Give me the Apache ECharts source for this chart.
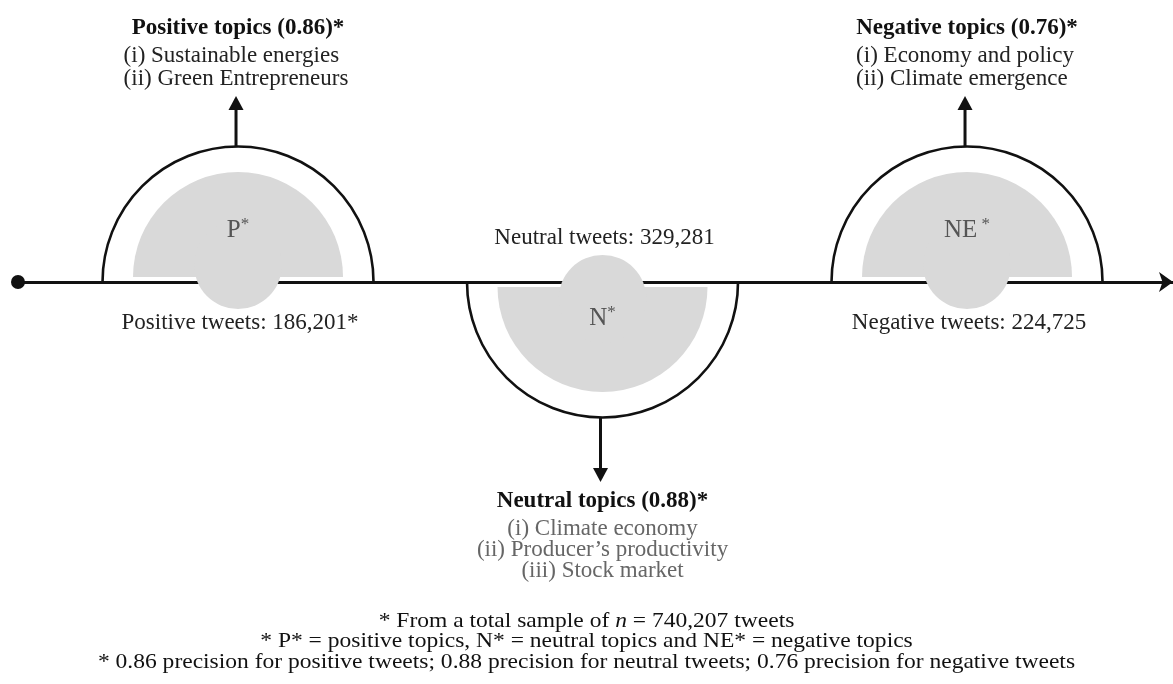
<!DOCTYPE html>
<html>
<head>
<meta charset="utf-8">
<script src="https://cdn.jsdelivr.net/npm/echarts@6/dist/echarts.min.js"></script>
<style>
  html, body { margin: 0; padding: 0; background: #fff; }
  #main { width: 1173px; height: 684px; }
</style>
</head>
<body>
<div id="main"></div>
<script>
// sentiment groups along the timeline
let categories = ['P', 'N', 'NE'];
let sentiments = ['Positive', 'Neutral', 'Negative'];
let tweetCounts = [186201, 329281, 224725];
let tweetMarks = ['*', '', ''];
let precisions = [0.86, 0.88, 0.76];
let topicLists = [
  ['Sustainable energies', 'Green Entrepreneurs'],
  ['Climate economy', 'Producer\u2019s productivity', 'Stock market'],
  ['Economy and policy', 'Climate emergence']
];
let sides = [1, -1, 1]; // 1 = topics above the line, -1 = below
let totalSample = 740207;
let romans = ['i', 'ii', 'iii'];

const SERIF = '"Liberation Serif", "DejaVu Serif", serif';
const INK = '#111';
const SHADE = '#d9d9d9';

let measureCtx = document.createElement('canvas').getContext('2d');
function textWidth(s, font) {
  measureCtx.font = font;
  return measureCtx.measureText(s).width;
}

function renderItem(params, api) {
  let i = params.dataIndex;
  let side = api.value(1);
  let p = api.coord([api.value(0), 0]);
  let cx = p[0], cy = p[1];
  let up = side > 0;
  let a0 = up ? Math.PI : 0;
  let a1 = up ? Math.PI * 2 : Math.PI;
  let tipY = cy - side * (up ? 186 : 200);
  let ax = cx - 2;

  let children = [
    {
      type: 'sector',
      shape: { cx: cx, cy: cy - side * 5, r0: 0, r: 105, startAngle: a0, endAngle: a1, clockwise: true },
      style: { fill: SHADE }
    },
    {
      type: 'circle',
      shape: { cx: cx, cy: cy - side * 17, r: 44 },
      style: { fill: SHADE }
    },
    {
      type: 'arc',
      shape: { cx: cx, cy: cy, r: 135.5, startAngle: a0, endAngle: a1, clockwise: true },
      style: { stroke: INK, lineWidth: 2.6, fill: null }
    },
    {
      type: 'line',
      shape: { x1: ax, y1: cy - side * 135.5, x2: ax, y2: tipY + side * 12 },
      style: { stroke: INK, lineWidth: 3 }
    },
    {
      type: 'polygon',
      shape: { points: [[ax, tipY], [ax - 7.5, tipY + side * 14], [ax + 7.5, tipY + side * 14]] },
      style: { fill: INK }
    },
    {
      type: 'text',
      x: cx,
      y: up ? cy - 52 : cy + 36,
      style: {
        text: '{a|' + categories[i] + '}{s|' + (categories[i].length > 1 ? ' *' : '*') + '}',
        align: 'center',
        verticalAlign: 'middle',
        rich: {
          a: { fontSize: 25, fontFamily: SERIF, fill: '#555' },
          s: { fontSize: 17, fontFamily: SERIF, fill: '#555', padding: [0, 0, 10, 0] }
        }
      }
    },
    {
      type: 'text',
      x: cx + 2,
      y: up ? cy + 41 : cy - 44,
      style: {
        text: sentiments[i] + ' tweets: ' + tweetCounts[i].toLocaleString('en-US') + tweetMarks[i],
        align: 'center',
        verticalAlign: 'middle',
        fontSize: 23,
        fontFamily: SERIF,
        fill: '#222'
      }
    }
  ];

  let items = topicLists[i].map(function (t, k) {
    return '(' + romans[k] + ') ' + t;
  });
  let header = sentiments[i] + ' topics (' + precisions[i].toFixed(2) + ')*';
  let headerY, itemY;
  if (up) {
    let gap = 23;
    let lastY = tipY - 17;
    itemY = items.map(function (_, k) { return lastY - (items.length - 1 - k) * gap; });
    headerY = itemY[0] - 28;
  } else {
    headerY = tipY + 19;
    itemY = items.map(function (_, k) { return headerY + 28 + k * 21; });
  }
  children.push({
    type: 'text',
    x: cx,
    y: headerY,
    style: {
      text: header,
      align: 'center',
      verticalAlign: 'middle',
      fontSize: 23,
      fontWeight: 'bold',
      fontFamily: SERIF,
      fill: INK
    }
  });
  let maxW = Math.max.apply(null, items.map(function (s) {
    return textWidth(s, '23px ' + SERIF);
  }));
  items.forEach(function (s, k) {
    children.push({
      type: 'text',
      x: up ? cx - 2 - maxW / 2 : cx,
      y: itemY[k],
      style: {
        text: s,
        align: up ? 'left' : 'center',
        verticalAlign: 'middle',
        fontSize: 23,
        fontFamily: SERIF,
        fill: up ? '#222' : '#666'
      }
    });
  });

  return { type: 'group', children: children };
}

let footLines = [
  '* From a total sample of {i|n} = ' + totalSample.toLocaleString('en-US') + ' tweets',
  '* ' + categories.map(function (c, i) {
    return c + '* = ' + sentiments[i].toLowerCase() + ' topics';
  }).reduce(function (acc, s, i, arr) {
    if (i === 0) return s;
    return acc + (i === arr.length - 1 ? ' and ' : ', ') + s;
  }, ''),
  '* ' + precisions.map(function (v, i) {
    return v.toFixed(2) + ' precision for ' + sentiments[i].toLowerCase() + ' tweets';
  }).join('; ')
];

// footnotes: the source text is a little wider than plain Times, hence scaleX
let footnotes = footLines.map(function (s, k) {
  return {
    type: 'text',
    x: 586.5,
    y: 621 + k * 20.5,
    scaleX: 1.12,
    style: {
      text: s,
      align: 'center',
      verticalAlign: 'middle',
      fontSize: 21,
      fontFamily: SERIF,
      fill: INK,
      rich: {
        i: { fontStyle: 'italic', fontSize: 21, fontFamily: SERIF, fill: INK }
      }
    }
  };
});

let chartDom = document.getElementById('main');
let myChart = echarts.init(chartDom);
let option = {
  animation: false,
  backgroundColor: '#fff',
  grid: { left: 18, right: 0, top: 0, bottom: 0 },
  xAxis: {
    type: 'value',
    min: -0.6036,
    max: 2.5651,
    axisLine: {
      onZero: true,
      symbol: ['circle', 'arrow'],
      symbolSize: [15, 14],
      lineStyle: { color: INK, width: 3 }
    },
    axisTick: { show: false },
    axisLabel: { show: false },
    splitLine: { show: false }
  },
  yAxis: {
    type: 'value',
    min: -402,
    max: 282,
    show: false
  },
  series: [
    {
      type: 'custom',
      renderItem: renderItem,
      data: categories.map(function (c, i) { return [i, sides[i]]; }),
      z: 5
    }
  ],
  graphic: footnotes
};

myChart.setOption(option);
</script>
</body>
</html>
